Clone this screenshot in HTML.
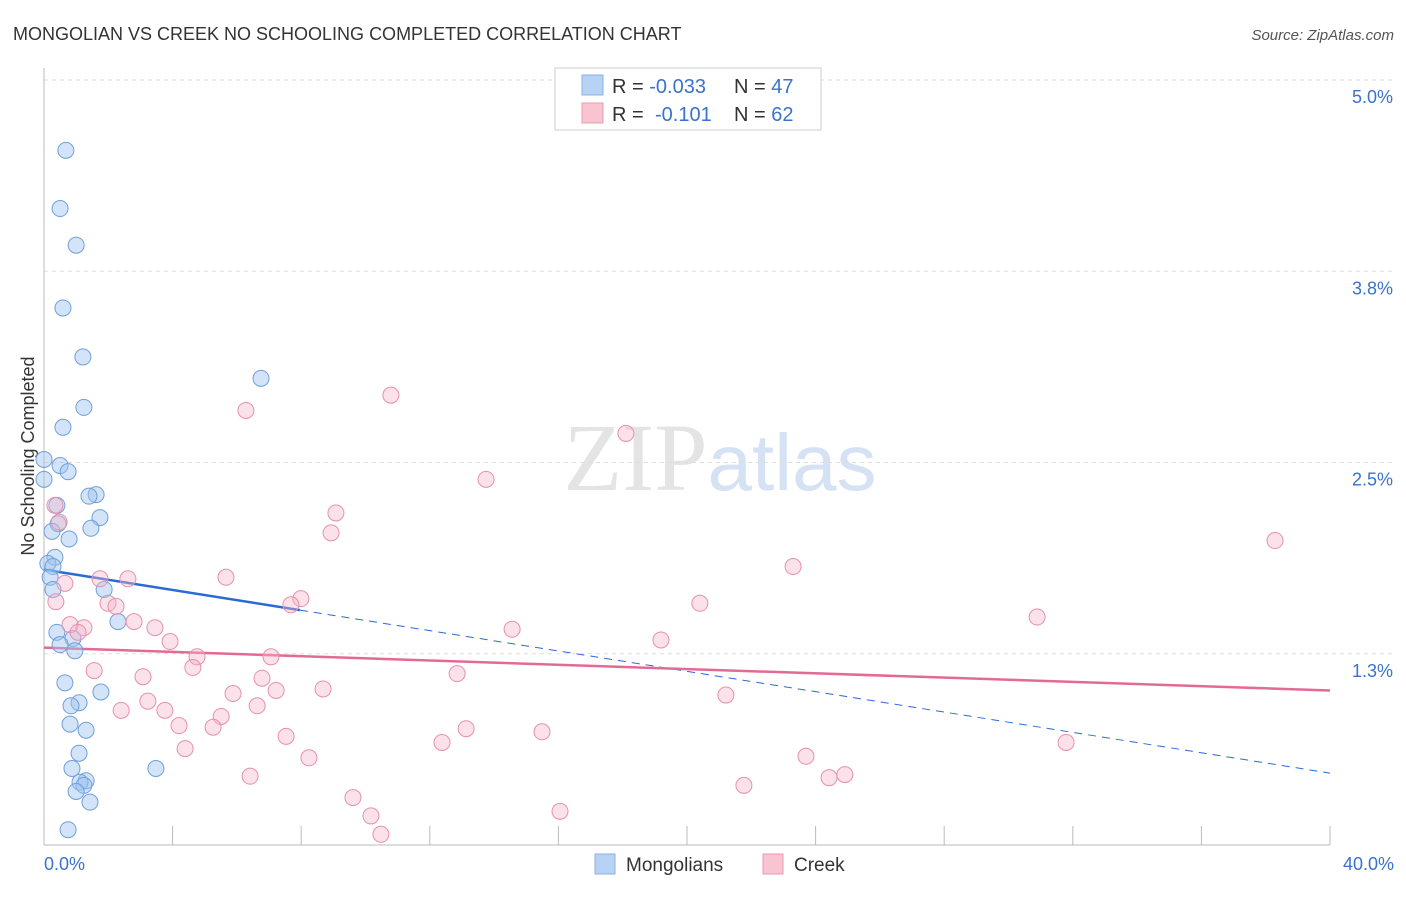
<!DOCTYPE html>
<html><head><meta charset="utf-8"><style>
body{margin:0;background:#fff;font-family:"Liberation Sans",sans-serif;}
svg text{font-family:"Liberation Sans",sans-serif;}
</style></head><body>
<svg id="chart" width="1406" height="892" xmlns="http://www.w3.org/2000/svg">
<text x="13" y="40" font-size="18" fill="#333">MONGOLIAN VS CREEK NO SCHOOLING COMPLETED CORRELATION CHART</text>
<text x="1394" y="40" font-size="15" fill="#555" text-anchor="end" font-style="italic">Source: ZipAtlas.com</text>
<text x="720" y="490" font-size="96" text-anchor="middle" fill="#e4e4e4"><tspan font-family="Liberation Serif">ZIP</tspan><tspan fill="#d4e2f4" font-size="80">atlas</tspan></text>
<text transform="translate(34,456) rotate(-90)" font-size="18" fill="#333" text-anchor="middle">No Schooling Completed</text>
<g id="grid"></g><g id="axes"></g><g id="trends"></g><g id="points"></g>
<g>
<rect x="555" y="68" width="266" height="62" fill="#fff" stroke="#ccc"/>
<rect x="582" y="75" width="21" height="20" fill="#b8d2f4" stroke="#88b0e4"/>
<rect x="582" y="103" width="21" height="20" fill="#f8c4d2" stroke="#eb9ab2"/>
<text x="612" y="93" font-size="20" fill="#333">R = <tspan fill="#3a72cc">-0.033</tspan><tspan x="734">N = </tspan><tspan fill="#3a72cc">47</tspan></text>
<text x="612" y="121" font-size="20" fill="#333">R = <tspan x="655" fill="#3a72cc">-0.101</tspan><tspan x="734">N = </tspan><tspan fill="#3a72cc">62</tspan></text>
</g>
<g>
<rect x="595" y="854" width="20" height="20" fill="#b8d2f4" stroke="#88b0e4"/>
<text x="626" y="871" font-size="19" fill="#333">Mongolians</text>
<rect x="763" y="854" width="20" height="20" fill="#f8c4d2" stroke="#eb9ab2"/>
<text x="794" y="871" font-size="19" fill="#333">Creek</text>
</g>
</svg>
<script>
const yTicks=[1.25,2.5,3.75,5.0];
const yTickLabels=["1.3%","2.5%","3.8%","5.0%"];
const xTicks=[0,4,8,12,16,20,24,28,32,36,40];
const mongX=[.68,.50,1.00,.59,1.21,1.24,.59,6.75,.50,.75,0,0,1.62,1.40,.40,.44,1.74,1.46,.25,.78,.34,.12,.28,.19,.28,1.87,2.30,.40,.90,.50,.96,.65,1.77,1.09,.84,.81,1.31,1.09,.87,3.48,1.31,1.12,1.24,1.00,1.43,.75];
const mongY=[4.54,4.16,3.92,3.51,3.19,2.86,2.73,3.05,2.48,2.44,2.52,2.39,2.29,2.28,2.22,2.10,2.14,2.07,2.05,2.00,1.88,1.84,1.82,1.75,1.67,1.67,1.46,1.39,1.35,1.31,1.27,1.06,1.00,.93,.91,.79,.75,.60,.50,.50,.42,.41,.39,.35,.28,.10];
const creekX=[.34,.47,.65,.37,1.74,2.61,1.99,2.24,2.80,.81,1.24,1.06,3.45,3.92,5.66,6.28,10.79,18.10,13.75,9.08,8.93,23.30,38.29,7.99,7.68,20.40,14.56,19.19,30.89,1.56,3.08,4.76,4.63,7.06,6.78,7.22,8.68,12.85,5.88,3.23,2.40,3.76,5.51,6.63,4.20,5.26,7.53,4.39,8.24,12.38,13.13,15.49,21.21,31.79,23.70,6.41,9.61,10.17,10.48,16.05,21.77,24.42,24.91];
const creekY=[2.22,2.11,1.71,1.59,1.74,1.74,1.58,1.56,1.46,1.44,1.42,1.39,1.42,1.33,1.75,2.84,2.94,2.69,2.39,2.17,2.04,1.82,1.99,1.61,1.57,1.58,1.41,1.34,1.49,1.14,1.10,1.23,1.16,1.23,1.09,1.01,1.02,1.12,.99,.94,.88,.88,.84,.91,.78,.77,.71,.63,.57,.67,.76,.74,.98,.67,.58,.45,.31,.19,.07,.22,.39,.44,.46];
const mongTrend=[1.80,0.47], mongSolidEnd=7.96;
const creekTrend=[1.29,1.01];
const X=v=>44+v/40*1286, Y=v=>845-v/5*765;
const NS="http://www.w3.org/2000/svg";
function mk(p,t,a){const e=document.createElementNS(NS,t);for(const k in a)e.setAttribute(k,a[k]);document.getElementById(p).appendChild(e);return e;}
yTicks.forEach((t,i)=>{
 const l=mk('grid','line',{x1:44,x2:1394,y1:Y(t),y2:Y(t),stroke:'#ddd','stroke-dasharray':'4,4'});
 
 
 const tx=mk('grid','text',{x:1393,y:Y(t)+23,'font-size':18,fill:'#3a72cc','text-anchor':'end'});
 tx.textContent=yTickLabels[i];
 
 
});
const ax=mk('axes','line',{x1:44,x2:1330,y1:845,y2:845,stroke:'#bbb'});


const ay=mk('axes','line',{x1:44,x2:44,y1:68,y2:845,stroke:'#bbb'});


xTicks.forEach(t=>{const l=mk('axes','line',{x1:X(t),x2:X(t),y1:826,y2:845,stroke:'#bbb'});
 
 });
[["0.0%",44,'start'],["40.0%",1394,'end']].forEach(d=>{const t=mk('axes','text',{x:d[1],y:870,'font-size':18,fill:'#3a72cc','text-anchor':d[2]});t.textContent=d[0];
 
 });
function ty(tr,x){return tr[0]+(tr[1]-tr[0])*x/40;}
const m1=mk('trends','line',{x1:X(0),y1:Y(ty(mongTrend,0)),x2:X(mongSolidEnd),y2:Y(ty(mongTrend,mongSolidEnd)),stroke:'#2a6ad4','stroke-width':2.5});


const m2=mk('trends','line',{x1:X(mongSolidEnd),y1:Y(ty(mongTrend,mongSolidEnd)),x2:X(40),y2:Y(ty(mongTrend,40)),stroke:'#2a6ad4','stroke-width':1,'stroke-dasharray':'8,6'});


const c1=mk('trends','line',{x1:X(0),y1:Y(creekTrend[0]),x2:X(40),y2:Y(creekTrend[1]),stroke:'#e46a96','stroke-width':2.5});


mongX.forEach((x,i)=>{const c=mk('points','circle',{cx:X(x),cy:Y(mongY[i]),r:8,fill:'rgba(160,196,240,0.45)',stroke:'#6f9fdc','stroke-width':1});
 
 });
creekX.forEach((x,i)=>{const c=mk('points','circle',{cx:X(x),cy:Y(creekY[i]),r:8,fill:'rgba(246,180,200,0.4)',stroke:'#e890ac','stroke-width':1});
 
 });
</script>
</body></html>
